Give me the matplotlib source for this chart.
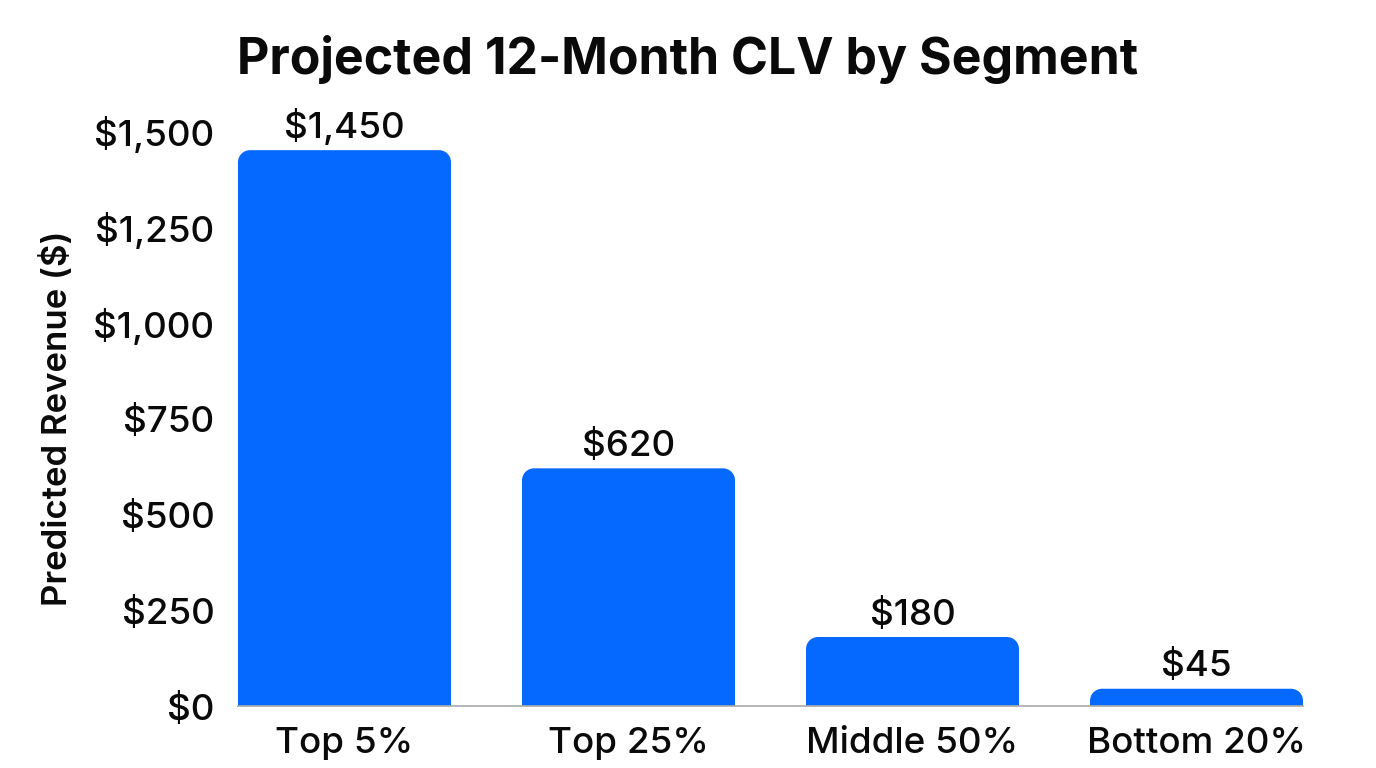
import matplotlib
matplotlib.use("Agg")
import matplotlib.pyplot as plt
from matplotlib.path import Path
from matplotlib.patches import PathPatch

segments = ["Top 5%", "Top 25%", "Middle 50%", "Bottom 20%"]
clv = [1450, 620, 180, 45]
yticks = [0, 250, 500, 750, 1000, 1250, 1500]

plt.rcParams['font.family'] = ['Inter', 'DejaVu Sans']

fig = plt.figure(figsize=(13.76, 7.68), dpi=100)
ax = fig.add_axes([238/1376, 62/768, (1303-238)/1376, (706-131)/768])

color = "#0669FF"
width = 0.75
bars = ax.bar(range(len(segments)), clv, width=width, color=color)
ax.set_xlim(-width/2, len(segments) - 1 + width/2)
ax.set_ylim(0, 1500)
fig.canvas.draw()

# replace with rounded-top bars
px_per_x = ax.bbox.width / (ax.get_xlim()[1] - ax.get_xlim()[0])
px_per_y = ax.bbox.height / (ax.get_ylim()[1] - ax.get_ylim()[0])
r_px = 12
for b in bars:
    x0, y0 = b.get_x(), b.get_y()
    w, h = b.get_width(), b.get_height()
    rx = r_px / px_per_x
    ry = min(r_px / px_per_y, h)
    k = 0.5523
    verts = [(x0, y0), (x0, y0 + h - ry),
             (x0, y0 + h - ry + k*ry), (x0 + rx - k*rx, y0 + h), (x0 + rx, y0 + h),
             (x0 + w - rx, y0 + h),
             (x0 + w - rx + k*rx, y0 + h), (x0 + w, y0 + h - ry + k*ry), (x0 + w, y0 + h - ry),
             (x0 + w, y0), (x0, y0)]
    codes = [Path.MOVETO, Path.LINETO,
             Path.CURVE4, Path.CURVE4, Path.CURVE4,
             Path.LINETO,
             Path.CURVE4, Path.CURVE4, Path.CURVE4,
             Path.LINETO, Path.CLOSEPOLY]
    b.set_visible(False)
    ax.add_patch(PathPatch(Path(verts, codes), facecolor=color, edgecolor='none', zorder=2))
    ax.text(x0 + w/2, h + 14, f"${h:,.0f}", ha='center', va='bottom', fontsize=26.5,
            fontweight='medium', color='#0a0a0a')

ax.set_yticks(yticks)
ax.set_yticklabels([f"${v:,}" for v in yticks])
ax.set_xticks(range(len(segments)))
ax.set_xticklabels(segments)
ax.tick_params(axis='both', length=0, labelsize=26.5, colors='#0a0a0a')
for lab in ax.get_xticklabels() + ax.get_yticklabels():
    lab.set_fontweight('medium')
ax.tick_params(axis='y', pad=17)
ax.tick_params(axis='x', pad=15)
for s in ['top', 'right', 'left']:
    ax.spines[s].set_visible(False)
ax.spines['bottom'].set_color('#aaaaaa')
ax.spines['bottom'].set_linewidth(1.2)
ax.set_ylabel("Predicted Revenue ($)", fontsize=25, fontweight='semibold', color='#0a0a0a', labelpad=14)
fig.text(688/1376, 1 - 59/768, "Projected 12-Month CLV by Segment", ha='center', va='center',
         fontsize=36, fontweight='bold', color='#0a0a0a')

fig.savefig("out.png", dpi=100, facecolor='white')
